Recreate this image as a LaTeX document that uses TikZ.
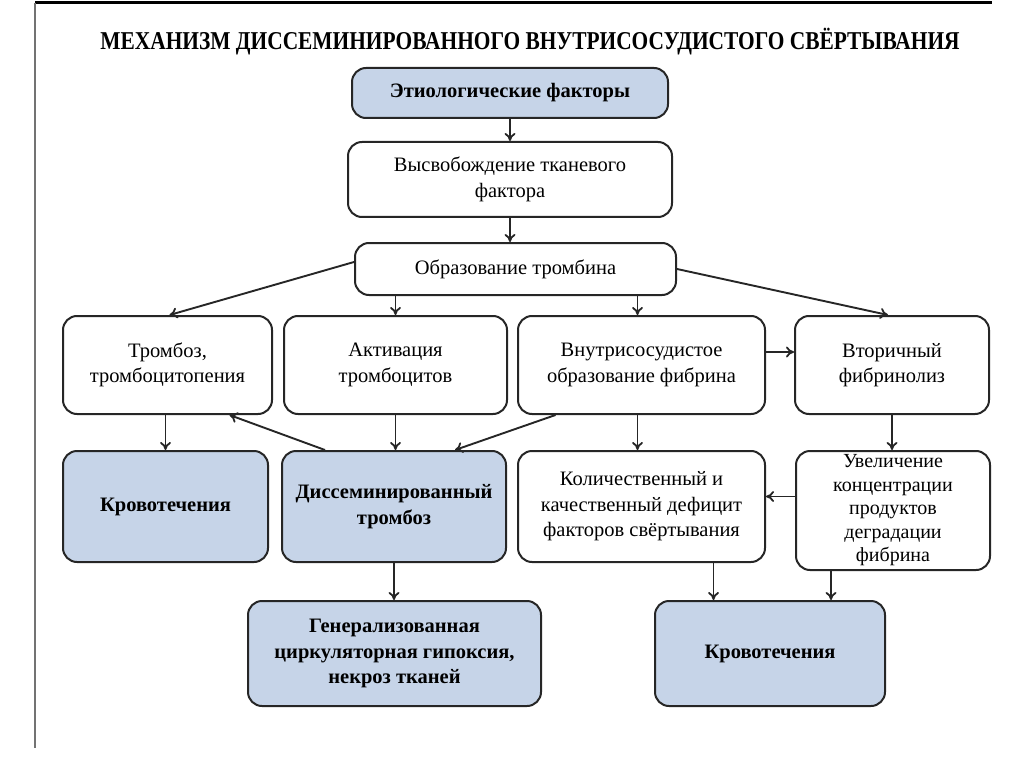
\documentclass[tikz,border=0pt]{standalone}
\usepackage{fontspec}
\setmainfont{Liberation Serif}
\usepackage{tikz}
\usetikzlibrary{positioning, arrows.meta}
\definecolor{boxblue}{RGB}{198,212,232}
\tikzset{
    plainbox/.style={draw=black!85, line width=2pt, rounded corners=14pt, fill=white, align=center, inner sep=0pt, font=\fontsize{20.5}{25.5}\selectfont},
    bluebox/.style={plainbox, fill=boxblue, font=\bfseries\fontsize{20.5}{25.5}\selectfont},
    link/.style={-{To[length=8pt,width=11pt,line width=1.8pt]}, line width=1.9pt, draw=black!85},
}

\begin{document}
\begin{tikzpicture}[x=1pt,y=-1pt]
                      \useasboundingbox (0,0) rectangle (1024,767);
                      \draw[line width=3pt](35,3)--(992,3);
                      \draw[black!55,line width=2pt](35,3)--(35,748);

                      \node[font=\bfseries\fontsize{21.4}{24}\selectfont] (title) at (530,42) {\scalebox{1}[1.2]{МЕХАНИЗМ ДИССЕМИНИРОВАННОГО ВНУТРИСОСУДИСТОГО СВЁРТЫВАНИЯ}};

                      \node[bluebox,minimum width=316pt,minimum height=50pt] (etiol) at (510,93) {Этиологические факторы};
                      \node[plainbox,minimum width=324pt,minimum height=75pt] (release) at (510,179.5) {Высвобождение тканевого\\фактора};
                      \node[plainbox,minimum width=321pt,minimum height=52pt] (thromb) at (515.5,269) {Образование тромбина};

                      \node[plainbox,minimum width=209pt,minimum height=98pt] (trombo) at (167.5,365) {Тромбоз,\\тромбоцитопения};
                      \node[plainbox,minimum width=223pt,minimum height=98pt] (act) at (395.5,365) {Активация\\тромбоцитов};
                      \node[plainbox,minimum width=247pt,minimum height=98pt] (fibr) at (641.5,365) {Внутрисосудистое\\образование фибрина};
                      \node[plainbox,minimum width=194pt,minimum height=98pt] (lysis) at (892,365) {Вторичный\\фибринолиз};

                      \node[bluebox,minimum width=205pt,minimum height=111pt] (bleedA) at (165.5,506.5) {Кровотечения};
                      \node[bluebox,minimum width=224pt,minimum height=111pt] (dic) at (394,506.5) {Диссеминированный\\тромбоз};
                      \node[plainbox,minimum width=247pt,minimum height=111pt] (defic) at (641.5,506.5) {Количественный и\\качественный дефицит\\факторов свёртывания};
                      \node[plainbox,minimum width=194pt,minimum height=119pt,font=\fontsize{20}{23.5}\selectfont] (fdp) at (893,510.5) {Увеличение\\концентрации\\продуктов\\деградации\\фибрина};

                      \node[bluebox,minimum width=293pt,minimum height=105pt] (hypox) at (394.5,653.5) {Генерализованная\\циркуляторная гипоксия,\\некроз тканей};
                      \node[bluebox,minimum width=230pt,minimum height=105pt] (bleedB) at (770,653.5) {Кровотечения};

                      \draw[link](etiol.south)--(release.north);
                      \draw[link](release.south)--(release.south |- thromb.north);
                      \draw[link]([yshift=7pt]thromb.west)--([xshift=2pt]trombo.north);
                      \draw[link](act.north |- thromb.south)--(act.north);
                      \draw[link]([xshift=-4pt]fibr.north |- thromb.south)--([xshift=-4pt]fibr.north);
                      \draw[link](thromb.east)--([xshift=-4pt]lysis.north);
                      \draw[link]([yshift=13pt]fibr.east)--([yshift=13pt]fibr.east -| lysis.west);

                      \draw[link](bleedA.north |- trombo.south)--(bleedA.north);
                      \draw[link](act.south)--(act.south |- dic.north);
                      \draw[link]([xshift=-69pt]dic.north)--([xshift=62pt]trombo.south);
                      \draw[link]([xshift=-86pt]fibr.south)--([xshift=61pt]dic.north);
                      \draw[link]([xshift=-4pt]fibr.south)--([xshift=-4pt]defic.north);
                      \draw[link](lysis.south)--(lysis.south |- fdp.north);
                      \draw[link]([yshift=14pt]fdp.west)--([yshift=14pt]fdp.west -| defic.east);

                      \draw[link]([xshift=72pt]defic.south)--([xshift=72pt]defic.south |- bleedB.north);
                      \draw[link]([xshift=-62pt]fdp.south)--([xshift=-62pt]fdp.south |- bleedB.north);
                      \draw[link](dic.south)--(dic.south |- hypox.north);
\end{tikzpicture}
\end{document}
